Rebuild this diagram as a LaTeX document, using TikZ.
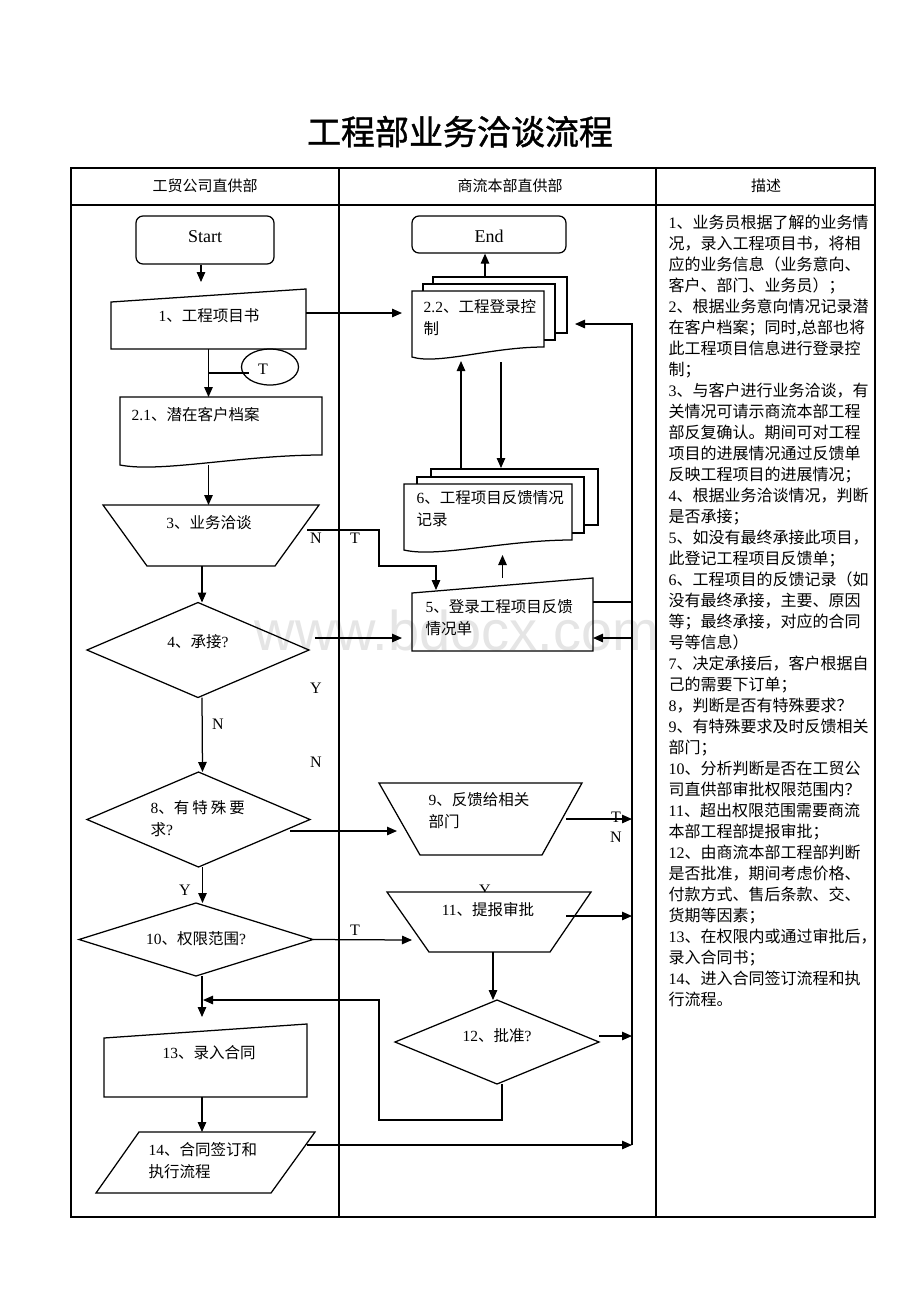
\documentclass[tikz,border=0pt]{standalone}
\usepackage{fontspec}
\setmainfont{Liberation Serif}
\newfontfamily\cjk{Noto Sans CJK SC}
\newfontfamily\cjkb[FakeBold=1.2]{Noto Sans CJK SC}
\usetikzlibrary{arrows.meta,calc,shapes.geometric}
\newcommand\z[1]{{\cjk #1}}
\newcommand\docpath[2]{\draw (#1.north west) -- (#1.north east) -- ([yshift=#2pt]#1.south east) .. controls ($(#1.south west)!0.6!(#1.south east)+(0,-#2)$) and ($(#1.south west)!0.2!(#1.south east)+(0,8)$) .. (#1.south west) -- cycle;}
\begin{document}
\begin{tikzpicture}[x=1pt,y=-1pt,line width=1.25pt,
  arr/.style={-{Triangle[length=10pt,width=8.5pt]}},
  bbx/.style={draw=none,inner sep=0pt,outer sep=0pt},
  lbl/.style={inner sep=0pt,align=left,font=\fontsize{15.5}{21.5}\selectfont},
  yn/.style={inner sep=0pt,font=\fontsize{16}{16}\selectfont},
  desc/.style={inner sep=0pt,font=\fontsize{16}{21}\selectfont},
]
\useasboundingbox (0,0) rectangle (920,1302);
\fill[white] (0,0) rectangle (920,1302);
% watermark
\node[inner sep=0pt,anchor=base,text=black!10,font=\fontsize{56}{56}\selectfont\fontspec{Liberation Sans}] (wm) at (457,650) {www.bdocx.com};
% title and table
\node[inner sep=0pt,anchor=base,font=\fontsize{34}{34}\selectfont\cjkb] (title) at (460,144.6) {工程部业务洽谈流程};
\draw[line width=1.3pt] (71,168) rectangle (875,1217);
\draw (71,205) -- (875,205);
\draw (339,168) -- (339,1217);
\draw (656,168) -- (656,1217);
\node[inner sep=0pt,anchor=base,font=\fontsize{15}{15}\selectfont\cjk] (h1) at (205,191.5) {工贸公司直供部};
\node[inner sep=0pt,anchor=base,font=\fontsize{15}{15}\selectfont\cjk] (h2) at (510,191.5) {商流本部直供部};
\node[inner sep=0pt,anchor=base,font=\fontsize{15}{15}\selectfont\cjk] (h3) at (766,191.5) {描述};
% description
\foreach \t [count=\i from 0] in {
1\z{、业务员根据了解的业务情},
\z{况，录入工程项目书，将相},
\z{应的业务信息（业务意向、},
\z{客户、部门、业务员）；},
2\z{、根据业务意向情况记录潜},
\z{在客户档案；同时,总部也将},
\z{此工程项目信息进行登录控},
\z{制；},
3\z{、与客户进行业务洽谈，有},
\z{关情况可请示商流本部工程},
\z{部反复确认。期间可对工程},
\z{项目的进展情况通过反馈单},
\z{反映工程项目的进展情况；},
4\z{、根据业务洽谈情况，判断},
\z{是否承接；},
5\z{、如没有最终承接此项目，},
\z{此登记工程项目反馈单；},
6\z{、工程项目的反馈记录（如},
\z{没有最终承接，主要、原因},
\z{等；最终承接，对应的合同},
\z{号等信息）},
7\z{、决定承接后，客户根据自},
\z{己的需要下订单；},
8\z{，判断是否有特殊要求？},
9\z{、有特殊要求及时反馈相关},
\z{部门；},
10\z{、分析判断是否在工贸公},
\z{司直供部审批权限范围内？},
11\z{、超出权限范围需要商流},
\z{本部工程部提报审批；},
12\z{、由商流本部工程部判断},
\z{是否批准，期间考虑价格、},
\z{付款方式、售后条款、交、},
\z{货期等因素；},
13\z{、在权限内或通过审批后，},
\z{录入合同书；},
14\z{、进入合同签订流程和执},
\z{行流程。}}
  \node[desc,anchor=base west] (d\i) at (668,{228+21*\i}) {\t};
% Y/N/T labels
\node[yn,anchor=base] (lN1) at (316,543.3) {N};
\node[yn,anchor=base] (lT1) at (355,543.3) {T};
\node[yn,anchor=base] (lY1) at (316,693.3) {Y};
\node[yn,anchor=base] (lN2) at (218,729.3) {N};
\node[yn,anchor=base] (lN3) at (316,767.3) {N};
\node[yn,anchor=base] (lT2) at (616,822.3) {T};
\node[yn,anchor=base] (lN4) at (616,842.3) {N};
\node[yn,anchor=base] (lY2) at (185,895.3) {Y};
\node[yn,anchor=base] (lT3) at (355,935.3) {T};
\node[yn,anchor=base] (lY3) at (485,895.5) {Y};
% shapes
\node[draw,rounded corners=7pt,minimum width=138pt,minimum height=48pt,inner sep=0pt] (start) at (205,240) {};
\node[draw,rounded corners=7pt,minimum width=154pt,minimum height=37pt,inner sep=0pt] (end) at (489,234.5) {};
\node[bbx,minimum width=195pt,minimum height=60pt] (n1) at (208.5,319) {};
\draw (n1.south west) -- ([yshift=-13pt]n1.north west) -- (n1.north east) -- (n1.south east) -- cycle;
\node[draw,ellipse,minimum width=57pt,minimum height=36pt,inner sep=0pt] (tc) at (270,367) {};
\node[bbx,minimum width=202pt,minimum height=68pt] (n21) at (221,431) {};
\docpath{n21}{10}
\node[bbx,minimum width=132pt,minimum height=66pt] (n22) at (478,324) {};
\docpath{n22}{10}
\draw ([xshift=11pt]n22.north west) -- ++(0,-7) -- ++(132,0) -- ++(0,56) -- ++(-11,0);
\draw ([xshift=21pt,yshift=7pt]n22.north west) -- ++(0,-7) -- ++(134,0) -- ++(0,56) -- ++(-12,0);
\node[bbx,minimum width=216pt,minimum height=61pt] (n3) at (211,535.5) {};
\draw (n3.north west) -- (n3.north east) -- ([xshift=-44pt]n3.south east) -- ([xshift=44pt]n3.south west) -- cycle;
\node[bbx,minimum width=222pt,minimum height=95pt] (n4) at (198,650) {};
\draw (n4.north) -- (n4.east) -- (n4.south) -- (n4.west) -- cycle;
\node[bbx,minimum width=181pt,minimum height=73pt] (n5) at (502.5,614.5) {};
\draw (n5.south west) -- ([yshift=-15pt]n5.north west) -- (n5.north east) -- (n5.south east) -- cycle;
\node[bbx,minimum width=168pt,minimum height=66pt] (n6) at (488,517) {};
\docpath{n6}{10}
\draw ([xshift=13pt]n6.north west) -- ++(0,-7) -- ++(167,0) -- ++(0,56) -- ++(-12,0);
\draw ([xshift=27pt,yshift=7pt]n6.north west) -- ++(0,-8) -- ++(167,0) -- ++(0,56) -- ++(-14,0);
\node[bbx,minimum width=223pt,minimum height=95pt] (n8) at (198.5,819.5) {};
\draw (n8.north) -- (n8.east) -- (n8.south) -- (n8.west) -- cycle;
\node[bbx,minimum width=203pt,minimum height=72pt] (n9) at (480.5,819) {};
\draw (n9.north west) -- (n9.north east) -- ([xshift=-40pt]n9.south east) -- ([xshift=41pt]n9.south west) -- cycle;
\node[bbx,minimum width=234pt,minimum height=73pt] (n10) at (196,939.5) {};
\draw (n10.north) -- (n10.east) -- (n10.south) -- (n10.west) -- cycle;
\node[bbx,minimum width=204pt,minimum height=60pt] (n11) at (489,922) {};
\draw[fill=white] (n11.north west) -- (n11.north east) -- ([xshift=-41pt]n11.south east) -- ([xshift=42pt]n11.south west) -- cycle;
\node[bbx,minimum width=204pt,minimum height=84pt] (n12) at (497,1042) {};
\draw (n12.north) -- (n12.east) -- (n12.south) -- (n12.west) -- cycle;
\node[bbx,minimum width=203pt,minimum height=73pt] (n13) at (205.5,1060.5) {};
\draw (n13.south west) -- ([yshift=-14pt]n13.north west) -- (n13.north east) -- (n13.south east) -- cycle;
\node[bbx,minimum width=219pt,minimum height=61pt] (n14) at (205.5,1162.5) {};
\draw ([xshift=43pt]n14.north west) -- (n14.north east) -- ([xshift=-44pt]n14.south east) -- (n14.south west) -- cycle;
% texts
\node[inner sep=0pt,anchor=base,font=\fontsize{18}{18}\selectfont] (startt) at (205,242) {Start};
\node[inner sep=0pt,anchor=base,font=\fontsize{18}{18}\selectfont] (endt) at (489,242) {End};
\node[yn,anchor=base] (tct) at (263,374) {T};
\node[lbl,anchor=base] (n1t) at (209,321.7) {1\z{、工程项目书}};
\node[lbl,anchor=base west] (n21t) at (131,420.7) {2.1\z{、潜在客户档案}};
\node[lbl,anchor=base west] (n22t) at (423,334.2) {2.2\z{、工程登录控}\\\z{制}};
\node[lbl,anchor=base] (n3t) at (209,528.7) {3\z{、业务洽谈}};
\node[lbl,anchor=base] (n4t) at (198,647.7) {4\z{、承接}?};
\node[lbl,anchor=base west] (n5t) at (425,634.2) {5\z{、登录工程项目反馈}\\\z{情况单}};
\node[lbl,anchor=base west] (n6t) at (416,525.2) {6\z{、工程项目反馈情况}\\\z{记录}};
\node[lbl,anchor=base west] (n8t) at (150,835.2) {8\z{、有\hspace{3pt}特\hspace{3pt}殊\hspace{3pt}要}\\\z{求}?};
\node[lbl,anchor=base west] (n9t) at (428,827.2) {9\z{、反馈给相关}\\\z{部门}};
\node[lbl,anchor=base] (n10t) at (196,944.7) {10\z{、权限范围}?};
\node[lbl,anchor=base] (n11t) at (488,915.7) {11\z{、提报审批}};
\node[lbl,anchor=base] (n12t) at (497,1041.7) {12\z{、批准}?};
\node[lbl,anchor=base] (n13t) at (209,1058.7) {13\z{、录入合同}};
\node[lbl,anchor=base west] (n14t) at (148,1177.2) {14\z{、合同签订和}\\\z{执行流程}};
% coordinates
\coordinate (rail) at (632,0);
\coordinate (tcin) at ([xshift=8pt,yshift=-6pt]tc.west);
\coordinate (c1) at ([yshift=6pt]n1.east);
\coordinate (c3) at ([xshift=-12pt,yshift=-25pt]n3.north east);
\coordinate (c5) at ([xshift=24pt,yshift=-12pt]n5.north west);
\coordinate (c4) at ([xshift=6pt,yshift=12pt]n4.east);
\coordinate (c5e) at ([yshift=12.5pt]n5.east);
\coordinate (c5r) at ([yshift=-23.5pt]n5.east);
\coordinate (c14) at ([xshift=-8pt,yshift=17.5pt]n14.east);
\coordinate (c8) at ([xshift=-20pt,yshift=-11.5pt]n8.east);
\coordinate (c9w) at ([xshift=18pt,yshift=-12pt]n9.west);
\coordinate (c11w) at ([xshift=25pt,yshift=-18pt]n11.west);
\coordinate (c11e) at ([xshift=-25pt,yshift=6pt]n11.east);
\coordinate (c12e) at ([yshift=6pt]n12.east);
\coordinate (vx) at ([xshift=5pt]n4.south);
% connectors
\draw[arr,shorten >=7pt] ([xshift=-4pt]start.south) -- ([xshift=-4pt]start.south |- n1.north);
\draw[arr] (n1.south) -- (n1.south |- n21.north);
\draw (n1.south |- tcin) -- (tcin);
\draw[arr] (n1.south |- n21.south) -- (n1.south |- n3.north);
\draw[arr] ([xshift=4pt]n4.north |- n3.south) -- ([xshift=4pt]n4.north);
\draw[arr] ([xshift=4pt]n4.south) -- ([xshift=4pt]n8.north);
\draw[arr] ([xshift=4pt]n8.south) -- ([xshift=4pt]n8.south |- n10.north);
\draw[arr,shorten >=7pt] ([xshift=6pt]n10.south) -- ([xshift=6pt]n10.south |- n13.north);
\draw[arr] ([xshift=-3.5pt]n13.south) -- ([xshift=-3.5pt]n14.north);
\draw[arr,shorten >=10pt] (c1) -- (c1 -| n22.west);
\draw[arr] ([xshift=7pt,yshift=14pt]n22.north) -- ([xshift=7pt]n22.north |- end.south);
\draw[arr,shorten >=4pt] ([xshift=-27pt,yshift=15pt]n6.north) -- ([xshift=-27pt]n6.north |- n22.south);
\draw[arr,shorten <=5pt] ([xshift=13pt]n6.north |- n22.south) -- ([xshift=13pt,yshift=16pt]n6.north);
\draw[arr] (c3) -- ++(72,0) -- ++(0,36) -| (c5);
\draw[arr,shorten >=10pt] (c4) -- (c4 -| n5.west);
\draw[arr,shorten >=5pt] (n5.north) -- (n5.north |- n6.south);
\draw[arr] (c5e) -| (rail |- n22.east) -- ([xshift=31pt]n22.east);
\draw[arr] (c14) -- (rail |- c14);
\draw (rail |- c14) -- (rail |- c5e);
\draw[arr] (rail |- c5r) -- (c5r);
\draw[arr] (c8) -- (c9w);
\draw[arr] ([xshift=-16pt]n9.east) -- (rail |- n9.east);
\draw[arr] (n10.east) -- (c11w);
\draw[arr] (c11e) -- (rail |- c11e);
\draw[arr] ([xshift=4pt]n11.south) -- ([xshift=4pt]n11.south |- n12.north);
\draw[arr] (c12e) -- (rail |- c12e);
\draw[arr] ([xshift=5pt]n12.south) -- ++(0,36) -- ++(-123,0) -- ++(0,-120) -- (vx |- n12.north);
\end{tikzpicture}
\end{document}
